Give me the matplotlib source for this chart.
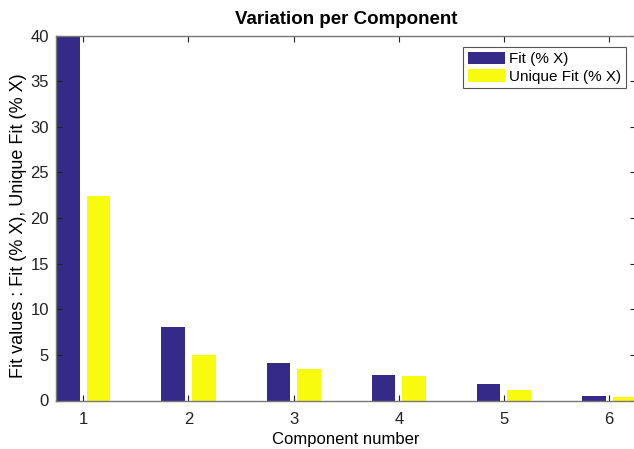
import matplotlib
matplotlib.use("Agg")
import matplotlib.pyplot as plt
import numpy as np

components = [1, 2, 3, 4, 5, 6]
fit_x = [41.0, 8.09, 4.08, 2.83, 1.78, 0.48]
unique_fit_x = [22.45, 4.95, 3.45, 2.68, 1.15, 0.42]
series_labels = ["Fit (% X)", "Unique Fit (% X)"]
yticks = [0, 5, 10, 15, 20, 25, 30, 35, 40]

plt.rcParams['font.family'] = ['Liberation Sans', 'DejaVu Sans']

fig = plt.figure(figsize=(6.34, 4.49), dpi=100)
ax = fig.add_axes([56/634, 1-400.5/449, (636.4-56)/634, (400.5-35.5)/449])

x = np.array(components, dtype=float)
w = 0.224
off = 0.145
ax.bar(x - off, fit_x, width=w, color='#352a87', edgecolor='none', label=series_labels[0])
ax.bar(x + off, unique_fit_x, width=w, color='#f9fb0e', edgecolor='none', label=series_labels[1])

ax.set_xlim(0.74, 6.26)
ax.set_ylim(0, 40)
ax.set_xticks(components)
ax.set_yticks(yticks)
ax.tick_params(direction='in', top=True, right=True, length=4, width=0.8,
               labelsize=12, colors='#222222', pad=5)
ax.tick_params(axis='x', pad=8)
for s in ax.spines.values():
    s.set_color('#777777')
    s.set_linewidth(1.0)

ax.set_title("Variation per Component", fontsize=13.5, fontweight='bold', pad=8)
ax.set_xlabel("Component number", fontsize=12, labelpad=4)
ax.set_ylabel("Fit values : Fit (% X), Unique Fit (% X)", fontsize=13)
ax.yaxis.set_label_coords(-0.05, 0.478)

leg = ax.legend(loc='upper right', bbox_to_anchor=(626/634, 1-47/449),
                bbox_transform=fig.transFigure, borderaxespad=0, fontsize=11,
                fancybox=False, framealpha=1, edgecolor='#555555',
                handlelength=2.4, handleheight=0.9, handletextpad=0.3,
                labelspacing=0.2, borderpad=0.3)
leg.get_frame().set_linewidth(0.8)

fig.savefig("out.png", dpi=100)
